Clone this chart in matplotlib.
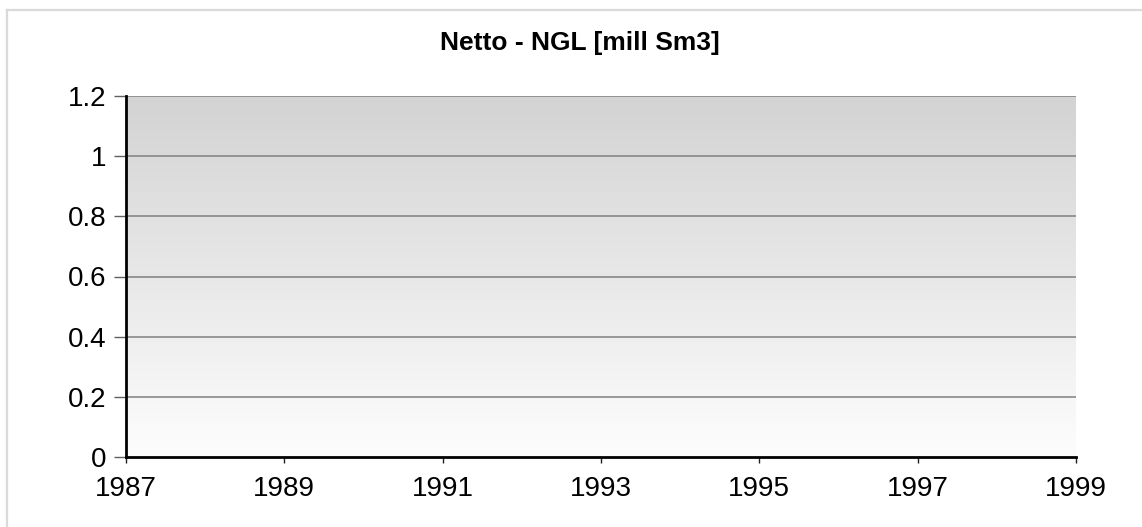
import numpy as np
import matplotlib
matplotlib.use("Agg")
import matplotlib.pyplot as plt
from matplotlib.lines import Line2D

# Data (the reference chart shows no series values)
years = []
values = []
x_ticks = [1987, 1989, 1991, 1993, 1995, 1997, 1999]
y_ticks = [0, 0.2, 0.4, 0.6, 0.8, 1, 1.2]
y_tick_labels = ["0", "0.2", "0.4", "0.6", "0.8", "1", "1.2"]
title = "Netto - NGL [mill Sm3]"

plt.rcParams['font.family'] = ['Liberation Sans', 'DejaVu Sans']

W, H = 1142, 527
fig = plt.figure(figsize=(W / 100, H / 100), dpi=100)
fig.patch.set_facecolor('white')

# outer frame lines (top and left)
fig.add_artist(Line2D([7 / W, 1], [1 - 10 / H, 1 - 10 / H], transform=fig.transFigure,
                      color='#dadada', lw=1.6))
fig.add_artist(Line2D([7 / W, 7 / W], [0, 1 - 10 / H], transform=fig.transFigure,
                      color='#dadada', lw=1.6))

ax = fig.add_axes([126 / W, 1 - 457 / H, (1076 - 126) / W, (457 - 96) / H])

# gradient background
grad = np.linspace(253, 211, 256).reshape(-1, 1) / 255.0
grad_rgb = np.dstack([grad, grad, grad])
ax.imshow(grad_rgb, extent=[0, 1, 0, 1], transform=ax.transAxes, aspect='auto',
          origin='lower', zorder=0, interpolation='bilinear')

ax.plot(years, values, color='#1f4e9a', lw=2, zorder=3)

ax.set_xlim(x_ticks[0], x_ticks[-1])
ax.set_ylim(y_ticks[0], y_ticks[-1])
ax.set_xticks(x_ticks)
ax.set_xticklabels([str(t) for t in x_ticks])
ax.set_yticks(y_ticks)
ax.set_yticklabels(y_tick_labels)

for y in y_ticks[1:]:
    ax.axhline(y, color='#808080', lw=1.1, zorder=1)

for s in ['top', 'right']:
    ax.spines[s].set_visible(False)
ax.spines['left'].set_color('black')
ax.spines['left'].set_linewidth(2.0)
ax.spines['bottom'].set_color('black')
ax.spines['bottom'].set_linewidth(2.0)
ax.spines['left'].set_zorder(4)
ax.spines['bottom'].set_zorder(4)

ax.tick_params(axis='y', length=9, width=1, color='#606060', pad=5, labelsize=20)
ax.tick_params(axis='x', length=4, width=1, color='#202020', pad=9.5, labelsize=20)

fig.text(580 / W, 1 - 43 / H, title, ha='center', va='center', fontsize=19,
         fontweight='bold')

fig.savefig('out.png', dpi=100, facecolor='white')
